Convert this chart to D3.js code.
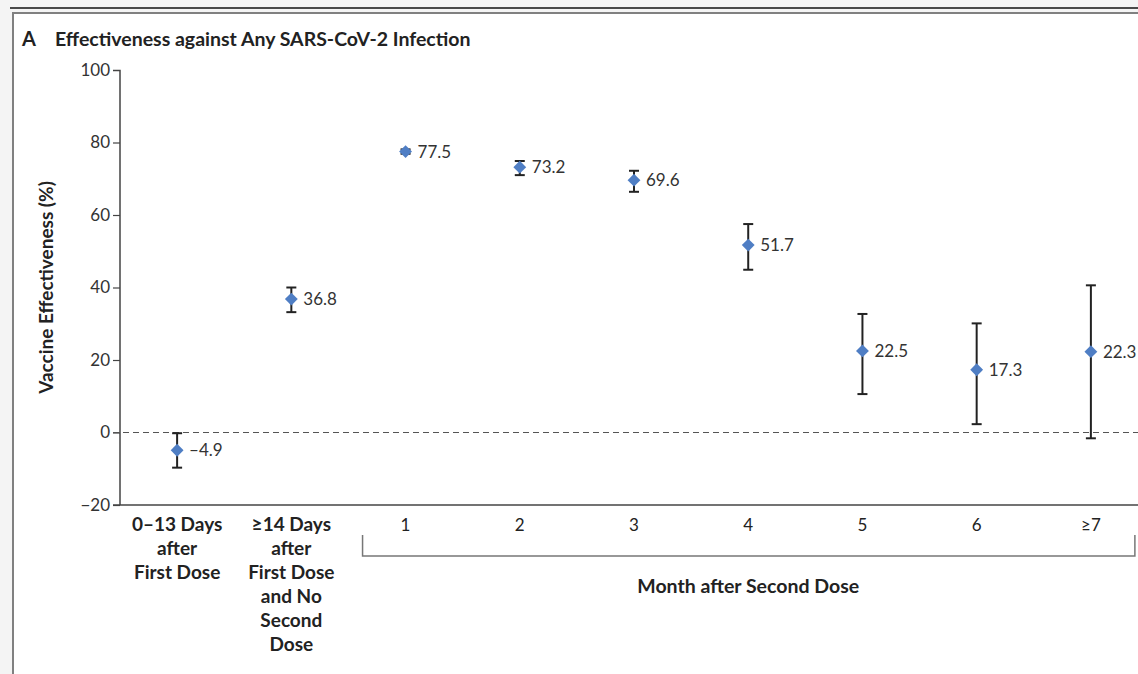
<!DOCTYPE html>
<html>
<head>
<meta charset="utf-8">
<script src="https://cdn.jsdelivr.net/npm/d3@7"></script>
<style>
  body { margin: 0; background: #f4f4f4; }
  svg { display: block; font-family: Lato, "Open Sans", sans-serif; }
</style>
</head>
<body>
<script>
// categories along the x axis (first two are multi-line, bold)
var categories = ["d0_13", "d14", "m1", "m2", "m3", "m4", "m5", "m6", "m7"];
var catLabels = [
    ["0\u201313 Days", "after", "First Dose"],
    ["\u226514 Days", "after", "First Dose", "and No", "Second", "Dose"],
    ["1"], ["2"], ["3"], ["4"], ["5"], ["6"], ["\u22657"]
];
var estimates = [-4.9, 36.8, 77.5, 73.2, 69.6, 51.7, 22.5, 17.3, 22.3];
var lowerCI = [-9.7, 33.2, 76.9, 71.0, 66.4, 44.9, 10.6, 2.3, -1.6];
var upperCI = [-0.2, 40.0, 78.1, 74.9, 72.2, 57.5, 32.7, 30.1, 40.6];
var yTicks = [-20, 0, 20, 40, 60, 80, 100];

var width = 1138, height = 674;

var svg = d3.select("body").append("svg")
    .attr("width", width)
    .attr("height", height);

// panel background and frame
svg.append("rect").attr("x", 0).attr("y", 0).attr("width", width).attr("height", height).attr("fill", "#f4f4f4");
svg.append("rect").attr("x", 13).attr("y", 13).attr("width", width).attr("height", height)
    .attr("fill", "#fff").attr("stroke", "#808080").attr("stroke-width", 2);
svg.append("line").attr("x1", 10).attr("x2", width).attr("y1", 8).attr("y2", 8)
    .attr("stroke", "#111").attr("stroke-width", 1.5);

// title
svg.append("text").attr("x", 22).attr("y", 46)
    .style("font-weight", "bold").style("font-size", "20px").attr("fill", "#222").text("A");
svg.append("text").attr("x", 55).attr("y", 46)
    .style("font-weight", "bold").style("font-size", "19.5px").attr("fill", "#222")
    .text("Effectiveness against Any SARS-CoV-2 Infection");

var x = d3.scaleBand().domain(categories).range([120, 1148]);
var y = d3.scaleLinear().domain([-20, 100]).range([505, 70]);
var cx = function(i) { return x(categories[i]) + x.bandwidth() / 2; };

// y axis
var yAxis = d3.axisLeft(y).tickValues(yTicks).tickSize(7).tickPadding(3)
    .tickFormat(function(d) { return d < 0 ? "\u2212" + Math.abs(d) : d; });
var gy = svg.append("g").attr("transform", "translate(120,0)").call(yAxis);
gy.select(".domain").attr("stroke", "#444").attr("stroke-width", 1.5).attr("d", "M-7,70.5H0V505");
gy.selectAll(".tick line").attr("stroke", "#444").attr("stroke-width", 1.2);
gy.selectAll(".tick text").style("font-size", "17px").attr("fill", "#333")
    .style("font-family", "Lato, sans-serif");
gy.selectAll(".tick").filter(function(d) { return d === 100; }).select("line").remove();

// x axis baseline
svg.append("line").attr("x1", 113).attr("x2", width).attr("y1", y(-20)).attr("y2", y(-20))
    .attr("stroke", "#444").attr("stroke-width", 1.5);

// zero reference line
svg.append("line").attr("x1", 113).attr("x2", width).attr("y1", y(0)).attr("y2", y(0))
    .attr("stroke", "#555").attr("stroke-width", 1.2).attr("stroke-dasharray", "6,4");

// y axis title
svg.append("text")
    .attr("transform", "translate(53," + (y(40)) + ") rotate(-90)")
    .attr("text-anchor", "middle")
    .style("font-weight", "bold").style("font-size", "19px").attr("fill", "#222")
    .text("Vaccine Effectiveness (%)");

// error bars
var bars = svg.append("g").selectAll("g.bar").data(estimates).enter().append("g");
bars.append("line")
    .attr("x1", function(d, i) { return cx(i); }).attr("x2", function(d, i) { return cx(i); })
    .attr("y1", function(d, i) { return y(lowerCI[i]); }).attr("y2", function(d, i) { return y(upperCI[i]); })
    .attr("stroke", "#222").attr("stroke-width", 2);
[lowerCI, upperCI].forEach(function(arr) {
    bars.append("line")
        .attr("x1", function(d, i) { return cx(i) - 5; }).attr("x2", function(d, i) { return cx(i) + 5; })
        .attr("y1", function(d, i) { return y(arr[i]); }).attr("y2", function(d, i) { return y(arr[i]); })
        .attr("stroke", "#222").attr("stroke-width", 2);
});

// diamonds
var diamond = d3.symbol().type(d3.symbolDiamond2).size(105);
bars.append("path")
    .attr("d", diamond)
    .attr("transform", function(d, i) { return "translate(" + cx(i) + "," + y(d) + ")"; })
    .attr("fill", "#4f7ec4");

// value labels
bars.append("text")
    .attr("x", function(d, i) { return cx(i) + 12; })
    .attr("y", function(d) { return y(d) + 6; })
    .style("font-size", "17px").attr("fill", "#333")
    .text(function(d) { return d < 0 ? "\u2013" + Math.abs(d).toFixed(1) : d.toFixed(1); });

// x category labels
catLabels.forEach(function(lines, i) {
    var bold = i < 2;
    var t = svg.append("text")
        .attr("text-anchor", "middle")
        .style("font-size", bold ? "19px" : "17px")
        .style("font-weight", bold ? "bold" : "normal")
        .attr("fill", "#222");
    lines.forEach(function(s, k) {
        t.append("tspan").attr("x", cx(i)).attr("y", 531 + k * 24).text(s);
    });
});

// bracket for months
var bx0 = cx(2) - 43, bx1 = cx(8) + 44;
svg.append("path")
    .attr("d", "M" + bx0 + ",535V556H" + bx1 + "V535")
    .attr("fill", "none").attr("stroke", "#777").attr("stroke-width", 1.5);
svg.append("text")
    .attr("x", (cx(2) + cx(8)) / 2).attr("y", 593)
    .attr("text-anchor", "middle")
    .style("font-weight", "bold").style("font-size", "19.5px").attr("fill", "#222")
    .text("Month after Second Dose");
</script>
</body>
</html>
